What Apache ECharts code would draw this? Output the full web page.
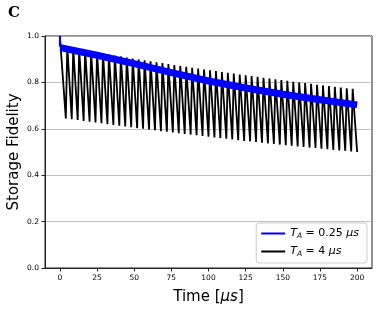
<!DOCTYPE html>
<html>
<head>
<meta charset="utf-8">
<script src="https://cdn.jsdelivr.net/npm/echarts@6/dist/echarts.min.js"></script>
<style>html,body{margin:0;padding:0;background:#fff;}#c{width:384px;height:312px;}</style>
</head>
<body>
<div id="c"></div>
<script>
// ---- data ----
const xTicks = [0, 25, 50, 75, 100, 125, 150, 175, 200];
const yTicks = [0.0, 0.2, 0.4, 0.6, 0.8, 1.0];

// T_A = 0.25 us : fast sawtooth that renders as a thick band (band centre values)
const blueTime = [0.3, 25, 50, 75, 100, 125, 150, 175, 200];
const blueFid  = [0.950, 0.917, 0.881, 0.842, 0.806, 0.776, 0.749, 0.725, 0.703];
const blueSpikeTime = [0, 0];
const blueSpikeFid  = [1.0, 0.955];

// T_A = 4 us : sawtooth, refresh every 4 us
const blackPeriod = 4;
const blackRise = 1;
const blackStartFid = 1.0;
const blackTops = [0.952,0.947,0.942,0.938,0.933,0.929,0.925,0.920,0.916,0.912,
  0.907,0.903,0.899,0.895,0.891,0.887,0.883,0.879,0.875,0.871,
  0.867,0.863,0.860,0.856,0.852,0.849,0.845,0.841,0.838,0.834,
  0.831,0.827,0.824,0.820,0.817,0.813,0.810,0.807,0.803,0.800,
  0.797,0.794,0.790,0.787,0.784,0.781,0.778,0.775,0.772];
const blackBottoms = [0.645,0.641,0.638,0.634,0.631,0.627,0.624,0.620,0.617,0.613,
  0.610,0.607,0.603,0.600,0.597,0.594,0.590,0.587,0.584,0.581,
  0.578,0.575,0.572,0.569,0.566,0.563,0.560,0.557,0.554,0.551,
  0.548,0.546,0.543,0.540,0.537,0.535,0.532,0.529,0.527,0.524,
  0.522,0.519,0.517,0.514,0.512,0.509,0.507,0.505,0.502,0.500];

// ---- build series data ----
const blackData = [[0, blackStartFid]];
for (let i = 0; i < blackBottoms.length; i++) {
  const t = (i + 1) * blackPeriod;
  blackData.push([t, blackBottoms[i]]);
  if (i < blackTops.length) blackData.push([t + blackRise, blackTops[i]]);
}
const blueData = blueTime.map((t, i) => [t, blueFid[i]]);
const spikeData = blueSpikeTime.map((t, i) => [t, blueSpikeFid[i]]);

const F = 'DejaVu Sans';
const chart = echarts.init(document.getElementById('c'), null, {renderer: 'canvas'});
chart.setOption({
  animation: false,
  backgroundColor: '#fff',
  title: {text: 'C', left: 3, top: 1, textStyle: {fontFamily: 'DejaVu Serif', fontWeight: 'bold', fontSize: 15, color: '#000'}},
  grid: {left: 45, right: 12, top: 36, bottom: 44, containLabel: false, outerBoundsMode: 'none',
         show: true, borderColor: '#222', borderWidth: 1, backgroundColor: 'transparent'},
  xAxis: {
    type: 'value', min: -10, max: 210,
    name: 'Time [{i|μs}]', nameLocation: 'middle', nameGap: 22, nameMoveOverlap: false,
    nameTextStyle: {fontFamily: F, fontSize: 15, color: '#000', rich: {i: {fontFamily: F, fontStyle: 'italic', fontSize: 15, color: '#000'}}},
    axisLine: {show: true, onZero: false, lineStyle: {color: '#222', width: 1}},
    axisTick: {show: true, customValues: xTicks, length: 3.5, lineStyle: {color: '#222'}},
    axisLabel: {customValues: xTicks, margin: 6, fontFamily: F, fontSize: 7.5, color: '#000'},
    splitLine: {show: false}
  },
  yAxis: {
    type: 'value', min: 0, max: 1, interval: 0.2,
    name: 'Storage Fidelity', nameLocation: 'middle', nameGap: 23, nameRotate: 90, nameMoveOverlap: false,
    nameTextStyle: {fontFamily: F, fontSize: 15, color: '#000'},
    axisLine: {show: true, onZero: false, lineStyle: {color: '#222', width: 1}},
    axisTick: {show: true, length: 3.5, lineStyle: {color: '#222'}},
    axisLabel: {margin: 6, fontFamily: F, fontSize: 7.5, color: '#000', formatter: v => v.toFixed(1)},
    splitLine: {show: true, lineStyle: {color: '#b0b0b0', width: 0.8}}
  },
  legend: {
    orient: 'vertical', right: 17, bottom: 49,
    padding: [5, 8, 5, 5], itemGap: 6,
    itemWidth: 24, itemHeight: 2,
    borderColor: '#cccccc', borderWidth: 1, borderRadius: 3,
    backgroundColor: 'rgba(255,255,255,0.85)',
    data: [{name: 'TA025', icon: 'rect'}, {name: 'TA4', icon: 'rect'}],
    formatter: function (name) {
      return name === 'TA025' ? '{i|T}{s|A}{n| = 0.25 }{i|μs}' : '{i|T}{s|A}{n| = 4 }{i|μs}';
    },
    textStyle: {
      fontFamily: F, fontSize: 11, color: '#000',
      rich: {
        i: {fontFamily: F, fontStyle: 'italic', fontSize: 11, color: '#000'},
        n: {fontFamily: F, fontSize: 11, color: '#000'},
        s: {fontFamily: F, fontStyle: 'italic', fontSize: 7.5, color: '#000', verticalAlign: 'bottom', padding: [5, 0, 0, 0]}
      }
    }
  },
  series: [
    {name: 'TA4', type: 'line', data: blackData, showSymbol: false, symbol: 'none', z: 2,
     lineStyle: {color: '#000', width: 1.8}, itemStyle: {color: '#000'}},
    {name: 'TA025', type: 'line', data: blueData, showSymbol: false, symbol: 'none', z: 3,
     lineStyle: {color: '#0000ff', width: 7, join: 'round'}, itemStyle: {color: '#0000ff'}},
    {name: 'TA025', type: 'line', data: spikeData, showSymbol: false, symbol: 'none', z: 3,
     lineStyle: {color: '#0000ff', width: 2}, itemStyle: {color: '#0000ff'}}
  ]
});
</script>
</body>
</html>
